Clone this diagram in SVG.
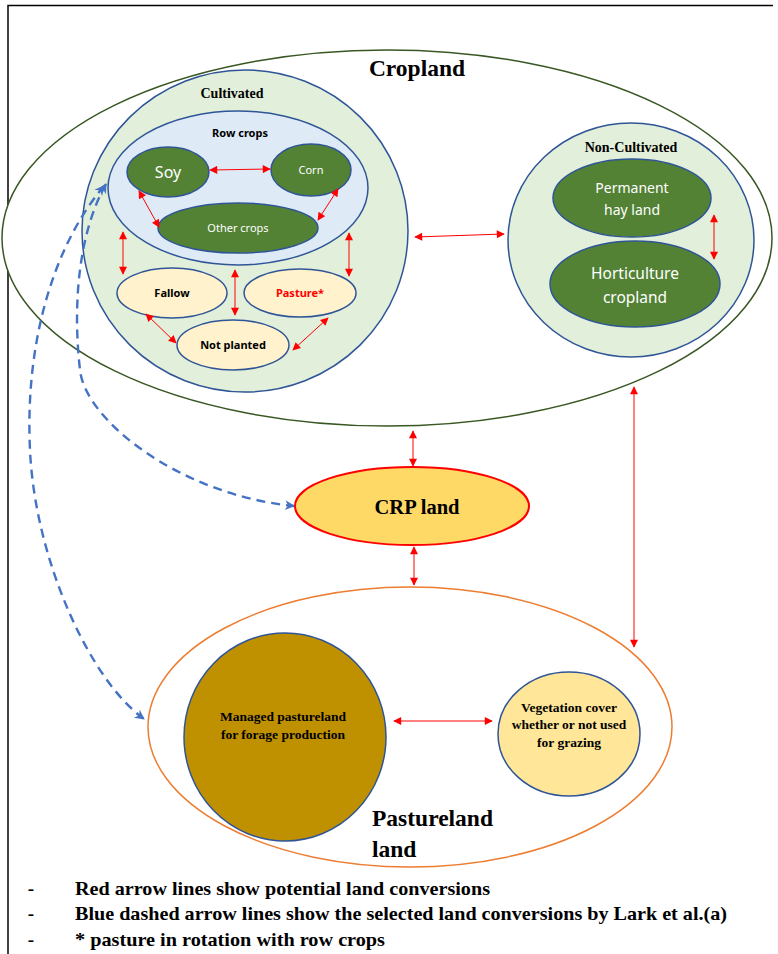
<svg xmlns="http://www.w3.org/2000/svg" width="778" height="954" viewBox="0 0 778 954">
<defs>
<marker id="rh" viewBox="0 0 10 10" refX="9" refY="5" markerWidth="9" markerHeight="8" markerUnits="userSpaceOnUse" orient="auto-start-reverse">
<path d="M0,0 L10,5 L0,10 Z" fill="#FF0000"/>
</marker>
<marker id="bh" viewBox="0 0 10 10" refX="9" refY="5" markerWidth="11" markerHeight="10" markerUnits="userSpaceOnUse" orient="auto-start-reverse">
<path d="M0,0 L10,5 L0,10 L3,5 Z" fill="#4472C4"/>
</marker>
</defs>
<style>
.blue{stroke:#2F5597;stroke-width:1.5}
.lg{fill:#E2EFDA}
.dg{fill:#548235}
.cream{fill:#FFF2CC}
.ra{stroke:#FF0000;stroke-width:1;fill:none;marker-start:url(#rh);marker-end:url(#rh)}
.ba{stroke:#4472C4;stroke-width:2.4;fill:none;stroke-dasharray:9,6;marker-start:url(#bh);marker-end:url(#bh)}
.serif{font-family:"Liberation Serif","Times New Roman",serif;font-weight:bold;fill:#000}
.sans{font-family:"Noto Sans","Open Sans",sans-serif}
.w{fill:#FFFFFF}
.b{font-weight:bold;fill:#000}
text{text-anchor:middle}
</style>
<rect width="778" height="954" fill="#FFFFFF"/>
<path d="M8,954 L8,5.5 L773,5.5" fill="none" stroke="#000" stroke-width="1.5"/>

<g id="cropland">
<ellipse cx="387" cy="238" rx="385" ry="188" fill="#FFFFFF" stroke="#385723" stroke-width="1.5"/>
<text class="serif" x="417" y="76" font-size="23.5">Cropland</text>
</g>

<g id="cultivated">
<ellipse class="lg blue" cx="245" cy="231" rx="163" ry="161"/>
<text class="serif" x="232" y="98" font-size="14">Cultivated</text>
</g>
<g id="rowcrops">
<ellipse cx="238" cy="188" rx="130" ry="77" fill="#DEEBF7" class="blue"/>
<text class="sans b" x="240" y="137" font-size="11">Row crops</text>
</g>
<g id="soy">
<ellipse class="dg blue" cx="168" cy="172" rx="41" ry="25"/>
<text class="sans w" x="168" y="178" font-size="16">Soy</text>
</g>
<g id="corn">
<ellipse class="dg blue" cx="311" cy="170" rx="40" ry="26"/>
<text class="sans w" x="311" y="174" font-size="11">Corn</text>
</g>
<g id="othercrops">
<ellipse class="dg blue" cx="238" cy="228" rx="80" ry="25"/>
<text class="sans w" x="238" y="232" font-size="11">Other crops</text>
</g>
<g id="fallow">
<ellipse class="cream blue" cx="172" cy="293" rx="55" ry="25"/>
<text class="sans b" x="172" y="297" font-size="11">Fallow</text>
</g>
<g id="pasture">
<ellipse class="cream blue" cx="300" cy="293" rx="56" ry="24"/>
<text class="sans" x="300" y="297" font-size="11" font-weight="bold" fill="#FF0000">Pasture*</text>
</g>
<g id="notplanted">
<ellipse class="cream blue" cx="233" cy="345" rx="56" ry="25"/>
<text class="sans b" x="233" y="349" font-size="11">Not planted</text>
</g>

<g id="noncultivated">
<ellipse class="lg blue" cx="631" cy="240" rx="123" ry="117"/>
<text class="serif" x="631" y="152" font-size="14">Non-Cultivated</text>
</g>
<g id="hayland">
<ellipse class="dg blue" cx="632" cy="198" rx="79" ry="39"/>
<text class="sans w" x="632" y="193" font-size="14">Permanent</text>
<text class="sans w" x="632" y="215" font-size="14">hay land</text>
</g>
<g id="horticulture">
<ellipse class="dg blue" cx="635" cy="284" rx="85" ry="43"/>
<text class="sans w" x="635" y="279" font-size="15.5">Horticulture</text>
<text class="sans w" x="635" y="303" font-size="15.5">cropland</text>
</g>

<g id="crp">
<ellipse cx="412" cy="506" rx="117" ry="39" fill="#FFD966" stroke="#FF0000" stroke-width="2"/>
<text class="serif" x="417" y="514" font-size="20.5">CRP land</text>
</g>

<g id="pastureland">
<ellipse cx="410" cy="727" rx="262" ry="140" fill="#FFFFFF" stroke="#ED7D31" stroke-width="1.5"/>
<text class="serif" x="372" y="826" font-size="23.5" style="text-anchor:start">Pastureland</text>
<text class="serif" x="372" y="857" font-size="23.5" style="text-anchor:start">land</text>
</g>
<g id="managed">
<ellipse cx="285" cy="737" rx="101" ry="104" fill="#BF9000" class="blue"/>
<text class="serif" x="283" y="721" font-size="13.5">Managed pastureland</text>
<text class="serif" x="283" y="739" font-size="13.5">for forage production</text>
</g>
<g id="vegetation">
<ellipse cx="569" cy="734" rx="71" ry="62" fill="#FFE699" class="blue"/>
<text class="serif" x="569" y="712" font-size="13.5">Vegetation cover</text>
<text class="serif" x="569" y="729" font-size="13.5">whether or not used</text>
<text class="serif" x="569" y="747" font-size="13.5">for grazing</text>
</g>

<g id="connectors">
<line class="ra" x1="210" y1="170" x2="270" y2="169"/>
<line class="ra" x1="139" y1="191" x2="159" y2="227"/>
<line class="ra" x1="338" y1="189" x2="318" y2="220"/>
<line class="ra" x1="123" y1="232" x2="123" y2="274"/>
<line class="ra" x1="349" y1="233" x2="349" y2="276"/>
<line class="ra" x1="235" y1="270" x2="235" y2="315"/>
<line class="ra" x1="146" y1="314" x2="176" y2="343"/>
<line class="ra" x1="328" y1="318" x2="293" y2="350"/>
<line class="ra" x1="415" y1="237" x2="504" y2="234"/>
<line class="ra" x1="714" y1="215" x2="714" y2="259"/>
<line class="ra" x1="413" y1="431" x2="413" y2="466"/>
<line class="ra" x1="414" y1="547" x2="414" y2="585"/>
<line class="ra" x1="634" y1="387" x2="634" y2="647"/>
<line class="ra" x1="394" y1="721" x2="492" y2="721"/>
<path class="ba" d="M106,184 C80,230 72,300 80,370 C85,420 180,495 294,506"/>
<path class="ba" d="M104,186 C50,250 25,350 30,450 C35,560 90,680 144,719"/>
</g>

<g id="legend" class="serif" font-size="19">
<text x="31" y="895">-</text>
<text x="31" y="920">-</text>
<text x="31" y="946">-</text>
<text x="75" y="895" style="text-anchor:start" textLength="415" lengthAdjust="spacingAndGlyphs">Red arrow lines show potential land conversions</text>
<text x="75" y="920" style="text-anchor:start" textLength="652" lengthAdjust="spacingAndGlyphs">Blue dashed arrow lines show the selected land conversions by Lark et al.(a)</text>
<text x="75" y="946" style="text-anchor:start" textLength="310" lengthAdjust="spacingAndGlyphs">* pasture in rotation with row crops</text>
</g>
</svg>
